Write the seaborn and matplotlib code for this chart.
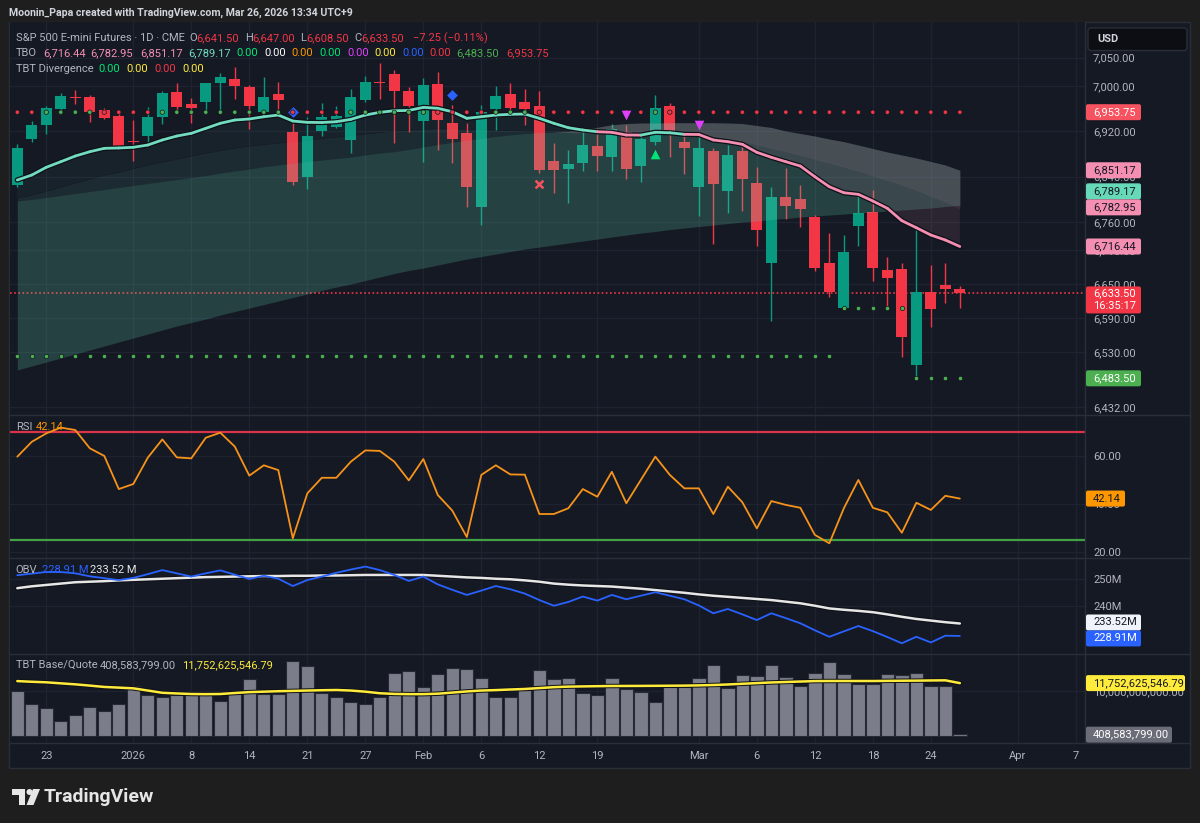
import numpy as np
import matplotlib
matplotlib.use("Agg")
import matplotlib.pyplot as plt
import matplotlib.patheffects as pe
from matplotlib.patches import Rectangle, FancyBboxPatch, Polygon, Circle
from matplotlib.transforms import IdentityTransform
from matplotlib.lines import Line2D
from matplotlib.ticker import FixedLocator, FuncFormatter
import seaborn as sns

sns.set_theme(style="dark")
plt.rcParams['font.family'] = ['Roboto', 'DejaVu Sans']

# ------------------------------------------------------------------ data
open_ = [6825.1, 6905.8, 6930.6, 6958.8, 6980.6, 6980.6, 6957.1, 6946.5, 6903.7, 6911.1,
         6944.7, 6988.9, 6968.2, 6972.3, 7004.7, 7012.4, 6997.7, 6954.6, 6985.9, 6919.2,
         6839.7, 6920.5, 6927.0, 6904.6, 6975.3, 7007.6, 7020.7, 6991.7, 6938.7, 7003.5,
         6935.1, 6916.4, 6786.7, 6959.3, 6985.9, 6971.2, 6964.7, 6867.5, 6853.3, 6864.5,
         6894.0, 6875.1, 6919.2, 6859.2, 6901.6, 6965.2, 6900.5, 6822.0, 6885.7, 6815.0,
         6885.1, 6828.1, 6686.7, 6804.4, 6799.8, 6769.1, 6686.7, 6608.3, 6753.2, 6776.8,
         6674.9, 6677.2, 6507.0, 6636.0, 6648.4, 6641.5]
high_ = [6897.5, 6938.2, 6964.7, 6987.1, 6992.9, 6984.1, 6961.1, 6953.5, 6939.9, 6963.4,
         6991.2, 7005.8, 6978.3, 7005.8, 7023.5, 7034.1, 7001.7, 7016.4, 7006.5, 6935.1,
         6945.7, 6969.4, 6964.7, 6994.2, 7017.7, 7040.1, 7028.3, 6998.8, 7013.6, 7025.2,
         6966.4, 6935.1, 6966.4, 7000.0, 7004.7, 6994.2, 6991.7, 6899.8, 6886.9, 6926.3,
         6914.6, 6932.8, 6931.1, 6911.6, 6984.1, 6970.5, 6917.0, 6916.4, 6889.9, 6895.7,
         6895.7, 6856.4, 6821.0, 6854.6, 6825.1, 6772.0, 6739.7, 6736.7, 6807.4, 6816.2,
         6697.3, 6687.8, 6747.3, 6683.2, 6687.2, 6647.0]
low_ = [6822.1, 6901.6, 6914.7, 6957.6, 6968.2, 6935.9, 6941.2, 6889.9, 6868.0, 6901.1,
        6932.3, 6957.6, 6935.2, 6957.6, 6951.8, 6976.5, 6924.0, 6950.0, 6958.8, 6825.1,
        6817.5, 6911.6, 6926.3, 6881.1, 6972.3, 6976.5, 6899.8, 6919.2, 6866.2, 6886.9,
        6864.5, 6786.7, 6754.4, 6922.2, 6954.1, 6931.1, 6845.7, 6811.4, 6793.8, 6850.3,
        6850.3, 6849.8, 6835.1, 6830.9, 6895.7, 6874.0, 6844.0, 6770.8, 6720.8, 6776.1,
        6779.7, 6717.8, 6584.8, 6765.0, 6751.4, 6673.6, 6626.6, 6607.2, 6717.8, 6656.0,
        6610.0, 6521.7, 6480.5, 6573.6, 6617.1, 6608.5]
close_ = [6889.9, 6931.1, 6961.7, 6982.3, 6978.3, 6954.6, 6944.0, 6892.8, 6901.9, 6945.2,
          6988.2, 6962.4, 6961.1, 7004.7, 7015.4, 7000.0, 6965.2, 6981.1, 6975.3, 6830.9,
          6911.6, 6945.7, 6947.0, 6981.1, 7007.6, 7005.3, 6991.2, 6965.2, 7001.7, 6939.9,
          6906.3, 6822.0, 6953.5, 6982.3, 6960.6, 6959.3, 6851.6, 6851.6, 6862.2, 6895.7,
          6876.8, 6923.5, 6852.8, 6905.8, 6960.6, 6920.5, 6889.9, 6889.9, 6826.3, 6878.1,
          6836.2, 6745.6, 6803.4, 6788.5, 6782.1, 6677.9, 6636.5, 6706.1, 6776.1, 6679.0,
          6660.2, 6557.0, 6636.0, 6605.4, 6640.8, 6633.5]

tbo_fast = [6833.9, 6842.7, 6856.4, 6866.2, 6876.3, 6883.9, 6889.9, 6890.5, 6891.7, 6895.7,
            6904.6, 6911.6, 6916.4, 6925.2, 6934.1, 6939.9, 6941.7, 6945.7, 6948.7, 6938.1,
            6935.8, 6935.5, 6936.9, 6941.1, 6948.7, 6953.5, 6956.3, 6956.8, 6962.3, 6960.6,
            6954.5, 6942.9, 6945.7, 6948.7, 6950.0, 6950.5, 6942.9, 6934.1, 6926.3, 6922.2,
            6919.2, 6918.2, 6913.4, 6913.2, 6918.2, 6917.4, 6914.6, 6914.3, 6904.6, 6901.6,
            6897.0, 6882.8, 6874.0, 6866.2, 6858.6, 6839.7, 6822.0, 6811.4, 6808.6, 6796.8,
            6783.9, 6762.0, 6749.6, 6736.7, 6727.9, 6716.44]
tbo_mid = [6802.1, 6807.4, 6814.4, 6821.5, 6828.6, 6835.7, 6842.7, 6848.0, 6854.2, 6860.4,
           6865.7, 6871.0, 6876.3, 6881.6, 6886.0, 6890.4, 6894.0, 6896.6, 6899.3, 6901.9,
           6904.6, 6907.2, 6909.9, 6912.5, 6915.2, 6917.8, 6920.5, 6922.2, 6924.0, 6924.9,
           6924.9, 6924.0, 6923.1, 6922.2, 6921.4, 6920.5, 6919.6, 6918.7, 6917.8, 6917.0,
           6917.0, 6919.6, 6917.0, 6915.2, 6916.1, 6915.2, 6913.4, 6915.2, 6911.6, 6907.2,
           6902.8, 6896.6, 6890.4, 6884.3, 6878.1, 6871.0, 6864.0, 6856.9, 6849.8, 6841.8,
           6833.9, 6825.1, 6816.2, 6805.6, 6795.1, 6782.95]
tbo_slow = [6796.8, 6799.5, 6803.0, 6806.5, 6810.0, 6813.6, 6817.1, 6820.6, 6824.2, 6827.7,
            6831.3, 6834.8, 6838.3, 6841.8, 6846.3, 6849.8, 6853.3, 6857.4, 6860.4, 6864.0,
            6866.6, 6869.2, 6871.9, 6874.5, 6878.1, 6881.6, 6883.9, 6887.8, 6892.2, 6896.6,
            6900.5, 6904.2, 6907.6, 6910.8, 6913.6, 6915.8, 6917.6, 6918.9, 6920.0, 6922.5,
            6927.0, 6931.5, 6933.7, 6934.6, 6934.6, 6935.1, 6935.1, 6935.1, 6935.1, 6934.6,
            6933.7, 6930.2, 6926.7, 6920.5, 6916.1, 6911.6, 6906.3, 6901.6, 6895.7, 6889.5,
            6883.4, 6878.1, 6872.8, 6866.6, 6860.4, 6851.17]
tbo_slower = [6498.2, 6505.3, 6512.3, 6519.4, 6526.5, 6533.5, 6540.6, 6547.7, 6554.7, 6561.8,
              6568.9, 6575.9, 6582.1, 6588.3, 6595.4, 6601.6, 6607.7, 6613.9, 6620.1, 6626.3,
              6632.5, 6638.6, 6644.8, 6650.1, 6656.3, 6662.5, 6668.7, 6674.0, 6678.4, 6683.7,
              6689.0, 6694.3, 6698.7, 6703.1, 6707.6, 6712.0, 6715.5, 6719.0, 6722.6, 6726.1,
              6729.6, 6733.2, 6736.7, 6740.2, 6742.9, 6746.4, 6749.1, 6751.7, 6754.4, 6757.0,
              6759.7, 6761.4, 6764.1, 6765.9, 6768.5, 6770.3, 6772.0, 6773.8, 6775.6, 6777.3,
              6779.1, 6780.9, 6782.6, 6784.4, 6787.1, 6789.17]

resistance_level = 6953.75
support_segments = [(0, 56, 6523.0), (57, 61, 6608.0), (62, 65, 6483.5)]
diamond_marks = [(19, 6953.5), (30, 6984.1)]
cross_marks = [(36, 6827.0)]
tri_down_marks = [(42, 6948.8), (47, 6931.0)]
tri_up_marks = [(44, 6880.0)]

rsi = [59.6, 65.8, 69.3, 71.7, 70.7, 63.1, 59.9, 46.1, 48.2, 59.2,
       66.8, 59.3, 58.9, 67.5, 69.6, 63.8, 51.7, 56.0, 54.0, 25.6,
       44.3, 50.8, 50.8, 57.5, 62.2, 62.0, 57.5, 49.7, 58.6, 43.6,
       37.1, 26.1, 52.0, 56.0, 52.2, 52.1, 35.7, 35.7, 38.1, 46.1,
       42.9, 53.3, 40.2, 49.9, 59.6, 52.0, 46.4, 46.4, 35.7, 47.1,
       40.6, 29.7, 41.1, 39.5, 38.3, 27.0, 23.5, 38.1, 49.9, 38.3,
       36.4, 27.9, 40.4, 37.4, 43.3, 42.14]
rsi_upper, rsi_lower = 70, 25

obv_m = [251.4, 252.0, 252.6, 252.6, 252.1, 251.0, 250.3, 249.6, 250.4, 251.8,
         253.3, 252.1, 250.9, 252.1, 253.2, 251.6, 250.0, 251.2, 250.1, 247.4,
         249.6, 250.9, 252.3, 253.5, 254.6, 253.3, 251.5, 249.3, 250.9, 248.0,
         246.0, 244.1, 245.7, 247.4, 246.2, 244.6, 242.2, 240.1, 241.5, 243.5,
         242.0, 244.1, 242.5, 243.8, 245.1, 243.8, 242.5, 240.2, 237.3, 238.9,
         236.9, 234.8, 237.3, 235.5, 233.6, 231.0, 228.6, 230.6, 232.6, 230.7,
         228.5, 226.2, 228.6, 226.5, 229.0, 228.91]
obv_ma_m = [246.6, 247.3, 247.8, 248.3, 248.8, 249.0, 249.2, 249.5, 249.7, 249.9,
            250.1, 250.3, 250.5, 250.7, 250.8, 250.9, 251.0, 251.1, 251.1, 251.2,
            251.2, 251.3, 251.3, 251.4, 251.5, 251.5, 251.5, 251.5, 251.5, 251.2,
            250.9, 250.6, 250.4, 250.1, 249.9, 249.5, 249.0, 248.3, 247.9, 247.6,
            247.4, 247.2, 246.8, 246.4, 245.9, 245.4, 244.9, 244.3, 243.8, 243.4,
            243.0, 242.6, 242.2, 241.6, 241.0, 240.1, 239.1, 238.6, 238.2, 237.7,
            236.9, 236.0, 235.2, 234.6, 234.0, 233.52]

volume_bn = [10.00, 7.11, 6.30, 3.41, 4.67, 6.37, 5.56, 7.11, 11.10, 9.11,
             8.60, 9.11, 9.26, 9.33, 7.78, 9.33, 12.67, 9.33, 9.33, 16.67,
             15.48, 9.48, 8.60, 7.56, 7.11, 8.74, 13.93, 14.52, 10.81, 13.70,
             15.19, 14.89, 12.81, 8.60, 8.74, 10.22, 14.59, 12.59, 12.89, 9.48,
             9.11, 12.96, 10.37, 9.70, 7.63, 10.81, 10.81, 12.96, 15.78, 10.74,
             13.56, 13.33, 15.78, 13.04, 11.11, 13.93, 16.37, 13.78, 11.56, 11.56,
             13.78, 13.56, 13.93, 11.19, 11.19, 0.4086]
volume_ma_bn = [12.20, 12.05, 11.93, 11.70, 11.48, 11.20, 10.90, 10.75, 10.59, 10.10,
                9.60, 9.45, 9.33, 9.30, 9.33, 9.55, 9.75, 9.85, 9.95, 10.02,
                10.10, 10.17, 10.22, 10.10, 9.85, 9.50, 9.35, 9.30, 9.30, 9.40,
                9.65, 9.90, 10.10, 10.20, 10.33, 10.45, 10.65, 10.85, 10.97, 11.02,
                11.07, 11.11, 11.12, 11.13, 11.15, 11.17, 11.19, 11.25, 11.33, 11.45,
                11.60, 11.75, 11.90, 12.00, 12.10, 12.20, 12.22, 12.22, 12.22, 12.22,
                12.25, 12.28, 12.30, 12.34, 12.37, 11.75]

xtick_pos = [2, 8, 12, 16, 20, 24, 28, 32, 36, 40, 47, 51, 55, 59, 63, 69, 73]
xtick_labels = ['23', '2026', '8', '14', '21', '27', 'Feb', '6', '12', '19',
                'Mar', '6', '12', '18', '24', 'Apr', '7']
price_ticks = [7050, 7000, 6920, 6840, 6760, 6710, 6650, 6590, 6530, 6432]
rsi_ticks = [20, 40, 60]
obv_ticks = [240, 250]
vol_ticks = [10]

# ------------------------------------------------------------------ style
W, H = 1200, 823
BG = "#151924"
FRAME = "#1e1e1e"
GRID = "#1f2330"
SEP = "#2a2e39"
TXT = "#b2b5be"
UPC = "#089981"
DNC = "#f23645"
TEAL = "#5fd3b0"
TEAL_LINE = "#72dcc0"
PINK = "#f48fb1"
DARK = "#131722"

fig = plt.figure(figsize=(W / 100, H / 100), dpi=100, facecolor=FRAME)


def frac_rect(x0, y0, x1, y1):
    return [x0 / W, 1 - y1 / H, (x1 - x0) / W, (y1 - y0) / H]


fig.add_artist(Rectangle((9, H - 768), 1190 - 9, 768 - 22, transform=IdentityTransform(),
                         facecolor=BG, edgecolor=SEP, lw=1, zorder=-5))

XL = (-0.503, 73.63)
ax_p = fig.add_axes(frac_rect(10, 22, 1085, 415))
ax_r = fig.add_axes(frac_rect(10, 415, 1085, 558))
ax_o = fig.add_axes(frac_rect(10, 558, 1085, 654))
ax_v = fig.add_axes(frac_rect(10, 654, 1085, 743))
axes = [ax_p, ax_r, ax_o, ax_v]
for ax in axes:
    ax.set_facecolor(BG)
    ax.set_xlim(*XL)
    for sp in ax.spines.values():
        sp.set_visible(False)
    ax.yaxis.tick_right()
    ax.tick_params(axis='y', length=0, pad=5.8, labelcolor=TXT, labelsize=8)
    ax.tick_params(axis='x', length=0, labelbottom=False)
    ax.set_xticks(xtick_pos)
    ax.grid(True, color=GRID, lw=1)
    ax.set_axisbelow(True)

ax_p.set_ylim(6418.7, 7113.1)
ax_r.set_ylim(17.375, 76.96)
ax_o.set_ylim(222.22, 257.78)
ax_v.set_ylim(-1.556, 18.22)

ax_p.yaxis.set_major_locator(FixedLocator(price_ticks))
ax_p.yaxis.set_major_formatter(FuncFormatter(lambda v, p: f"{v:,.2f}"))
ax_r.yaxis.set_major_locator(FixedLocator(rsi_ticks))
ax_r.yaxis.set_major_formatter(FuncFormatter(lambda v, p: f"{v:.2f}"))
ax_o.yaxis.set_major_locator(FixedLocator(obv_ticks))
ax_o.yaxis.set_major_formatter(FuncFormatter(lambda v, p: f"{v:.0f}M"))
ax_v.yaxis.set_major_locator(FixedLocator(vol_ticks))
ax_v.yaxis.set_major_formatter(FuncFormatter(lambda v, p: f"{v * 1e9:,.2f}"))

ax_v.set_xticks(xtick_pos)
ax_v.set_xticklabels(xtick_labels)
ax_v.tick_params(axis='x', labelbottom=True, pad=6, labelcolor=TXT, labelsize=8)

n = len(close_)
idx = np.arange(n)
o = np.array(open_); h = np.array(high_); l = np.array(low_); c = np.array(close_)
f1 = np.array(tbo_fast); f2 = np.array(tbo_mid); f3 = np.array(tbo_slow); f4 = np.array(tbo_slower)

# ------------------------------------------------------------------ price pane
cols = np.where(c >= o, UPC, DNC)
ax_p.vlines(idx, l, h, colors=cols, lw=1, zorder=2)
ax_p.bar(idx, np.maximum(np.abs(c - o), 1.4), bottom=np.minimum(o, c), width=0.76,
         color=cols, lw=0, zorder=2.1)

# clouds (drawn over the candles, translucent)
ax_p.fill_between(idx, f3, f4, where=f3 >= f4, color=TEAL, alpha=0.22, lw=0, interpolate=True, zorder=3)
ax_p.fill_between(idx, f2, f3, where=f2 >= f3, color=TEAL, alpha=0.10, lw=0, interpolate=True, zorder=3)
ax_p.fill_between(idx, f2, f3, where=f2 < f3, color=PINK, alpha=0.17, lw=0, interpolate=True, zorder=3)
ax_p.fill_between(idx, f1, f2, where=f1 >= f2, color=TEAL, alpha=0.05, lw=0, interpolate=True, zorder=3)
ax_p.fill_between(idx, f1, f2, where=f1 < f2, color=PINK, alpha=0.10, lw=0, interpolate=True, zorder=3)

# fast line
ax_p.plot(idx, f1, color="#0e1118", lw=3.8, solid_capstyle='round', zorder=3.9)
for i in range(n - 1):
    colr = TEAL_LINE if f1[i + 1] >= f2[i + 1] else PINK
    ax_p.plot([i, i + 1], [f1[i], f1[i + 1]], color=colr, lw=2.0, solid_capstyle='round', zorder=4)

# last price line
ax_p.axhline(close_[-1], color=DNC, lw=1.2, ls=(0, (1, 1.5)), zorder=1.5)

# level dots
res_cols = ["#4caf50" if cc > resistance_level else DNC for cc in close_]
ax_p.scatter(idx, np.full(n, resistance_level), c=res_cols, s=10, linewidths=0.5,
             edgecolors="#131722", zorder=5)
for a, b, lvl in support_segments:
    xs = np.arange(a, b + 1)
    ax_p.scatter(xs, np.full(len(xs), lvl), c="#4caf50", s=10, linewidths=0.5,
                 edgecolors="#131722", zorder=5)

ax_p.scatter([m[0] for m in diamond_marks], [m[1] for m in diamond_marks], marker='D', s=30,
             color="#2962ff", lw=0, zorder=4.5)
ax_p.scatter([m[0] for m in cross_marks], [m[1] for m in cross_marks], marker='x', s=32,
             color="#f7525f", linewidths=1.8, zorder=6)
ax_p.scatter([m[0] for m in tri_down_marks], [m[1] for m in tri_down_marks], marker='v', s=48,
             color="#e040fb", lw=0, zorder=6)
ax_p.scatter([m[0] for m in tri_up_marks], [m[1] for m in tri_up_marks], marker='^', s=48,
             color="#00e676", lw=0, zorder=6)

# ------------------------------------------------------------------ RSI
ax_r.axhline(rsi_upper, color="#d93349", lw=1.6, zorder=2)
ax_r.axhline(rsi_lower, color="#43a047", lw=1.6, zorder=2)
sns.lineplot(x=idx, y=rsi, ax=ax_r, color="#f7931a", linewidth=1.3, sort=False, zorder=4)

# ------------------------------------------------------------------ OBV
sns.lineplot(x=idx, y=obv_ma_m, ax=ax_o, color="#e6e6e6", linewidth=1.8, sort=False, zorder=3,
             path_effects=[pe.Stroke(linewidth=3.4, foreground="#0e1118"), pe.Normal()])
sns.lineplot(x=idx, y=obv_m, ax=ax_o, color="#2962ff", linewidth=1.3, sort=False, zorder=4)

# ------------------------------------------------------------------ Volume
ax_v.bar(idx, volume_bn, width=0.92, color="#7b7e8a", edgecolor="#262a35", lw=0.8, zorder=2)
sns.lineplot(x=idx, y=volume_ma_bn, ax=ax_v, color="#ffeb3b", linewidth=1.8, sort=False, zorder=4,
             path_effects=[pe.Stroke(linewidth=3.2, foreground="#0e1118"), pe.Normal()])

for ax in axes:
    ax.set_xlabel('')
    ax.set_ylabel('')

# ------------------------------------------------------------------ separators
for yy in [415, 558, 654, 743]:
    fig.add_artist(Line2D([9, 1190], [H - yy, H - yy], transform=IdentityTransform(),
                          color=SEP, lw=1, zorder=4))
fig.add_artist(Line2D([1085, 1085], [H - 743, H - 22], transform=IdentityTransform(),
                      color=SEP, lw=1, zorder=4))


# ------------------------------------------------------------------ text helpers
def ftxt(x, y, s, color=TXT, size=8, weight='normal', ha='left', va='center', z=7):
    fig.text(x / W, 1 - y / H, s, color=color, fontsize=size, fontweight=weight,
             ha=ha, va=va, zorder=z)


def ypix(ax, v):
    return H - ax.transData.transform((0, v))[1]


def vbox(ax, v, txt, bg, fg, w=55, hh=16, dy=0, txt2=None):
    yc = ypix(ax, v) + dy
    if txt2 is None:
        top, bot = yc - hh / 2, yc + hh / 2
    else:
        top, bot = yc - 7, yc + 20
    fig.add_artist(FancyBboxPatch((1086, H - bot), w, bot - top,
                                  boxstyle="round,pad=0,rounding_size=2",
                                  transform=IdentityTransform(), facecolor=bg,
                                  edgecolor='none', zorder=6))
    if txt2 is None:
        ftxt(1093, yc, txt, color=fg, size=8)
    else:
        ftxt(1093, yc, txt, color=fg, size=8)
        ftxt(1093, yc + 12.5, txt2, color=fg, size=8)


vbox(ax_p, 6953.75, "6,953.75", "#f7525f", "#ffffff")
vbox(ax_p, 6851.17, "6,851.17", PINK, DARK)
vbox(ax_p, 6789.17, "6,789.17", "#66d9b8", DARK, dy=-14)
vbox(ax_p, 6782.95, "6,782.95", PINK, DARK, dy=-1.5)
vbox(ax_p, 6716.44, "6,716.44", PINK, DARK)
vbox(ax_p, 6633.50, "6,633.50", "#f23645", "#ffffff", txt2="16:35:17")
vbox(ax_p, 6483.50, "6,483.50", "#4caf50", "#ffffff")
vbox(ax_r, 42.14, "42.14", "#ff9800", DARK, w=39)
vbox(ax_o, 233.52, "233.52M", "#f0f3fa", DARK, dy=-1)
vbox(ax_o, 228.91, "228.91M", "#2962ff", "#ffffff", dy=2.5)
vbox(ax_v, 11.7526, "11,752,625,546.79", "#ffeb3b", DARK, w=99)
vbox(ax_v, 0.4086, "408,583,799.00", "#6a6d78", "#ffffff", w=86, dy=0.5)

# USD box
fig.add_artist(FancyBboxPatch((1088, H - 50.5), 99, 22.5, boxstyle="round,pad=0,rounding_size=3",
                              transform=IdentityTransform(), facecolor="#0c0e13",
                              edgecolor=SEP, lw=1, zorder=6))
ftxt(1097, 39.5, "USD", color="#d1d4dc", size=8, weight='bold')

# top header
ftxt(9, 12.5, "Moonin_Papa created with TradingView.com, Mar 26, 2026 13:34 UTC+9",
     color="#d1d4dc", size=7.6, weight='bold')

# price legend
ftxt(16, 38, "S&P 500 E-mini Futures · 1D · CME")
for x, s, colr in [(189, "O", TXT), (196, "6,641.50", DNC), (245, "H", TXT), (252, "6,647.00", DNC),
                   (300, "L", TXT), (306, "6,608.50", DNC), (354, "C", TXT), (361, "6,633.50", DNC),
                   (413, "−7.25 (−0.11%)", DNC)]:
    ftxt(x, 38, s, color=colr)
for x, s, colr in [(16, "TBO", TXT), (43, "6,716.44", PINK), (90, "6,782.95", PINK),
                   (140, "6,851.17", PINK), (188, "6,789.17", TEAL_LINE), (236, "0.00", "#00e676"),
                   (264, "0.00", "#ffffff"), (291, "0.00", "#ff9800"), (319, "0.00", "#00e676"),
                   (347, "0.00", "#e040fb"), (374, "0.00", "#ffeb3b"), (402, "0.00", "#2962ff"),
                   (429, "0.00", "#f23645"), (456, "6,483.50", "#4caf50"), (506, "6,953.75", "#f23645")]:
    ftxt(x, 53, s, color=colr)
for x, s, colr in [(16, "TBT Divergence", TXT), (98, "0.00", "#00e676"), (126, "0.00", "#ffeb3b"),
                   (154, "0.00", "#f23645"), (182, "0.00", "#ffeb3b")]:
    ftxt(x, 69, s, color=colr)

ftxt(16, 427, "RSI")
ftxt(36, 427, "42.14", color="#ff9800")
ftxt(15, 570, "OBV")
ftxt(42, 570, "228.91 M", color="#2962ff")
ftxt(90, 570, "233.52 M", color="#e6e6e6")
ftxt(16, 665, "TBT Base/Quote")
ftxt(100, 665, "408,583,799.00")
ftxt(182, 665, "11,752,625,546.79", color="#ffeb3b")

# footer logo
logo_c = "#e6e6e6"
fig.add_artist(Polygon([(12, H - 789), (25, H - 789), (25, H - 805), (19, H - 805), (19, H - 795), (12, H - 795)],
                       closed=True, transform=IdentityTransform(), facecolor=logo_c, edgecolor='none', zorder=6))
fig.add_artist(Circle((29.5, H - 792), 3, transform=IdentityTransform(), facecolor=logo_c, edgecolor='none', zorder=6))
fig.add_artist(Polygon([(33, H - 789), (40, H - 789), (33.5, H - 805), (26.5, H - 805)],
                       closed=True, transform=IdentityTransform(), facecolor=logo_c, edgecolor='none', zorder=6))
ftxt(44, 797, "TradingView", color=logo_c, size=14, weight='bold')

fig.savefig("out.png", dpi=100, facecolor=FRAME)
